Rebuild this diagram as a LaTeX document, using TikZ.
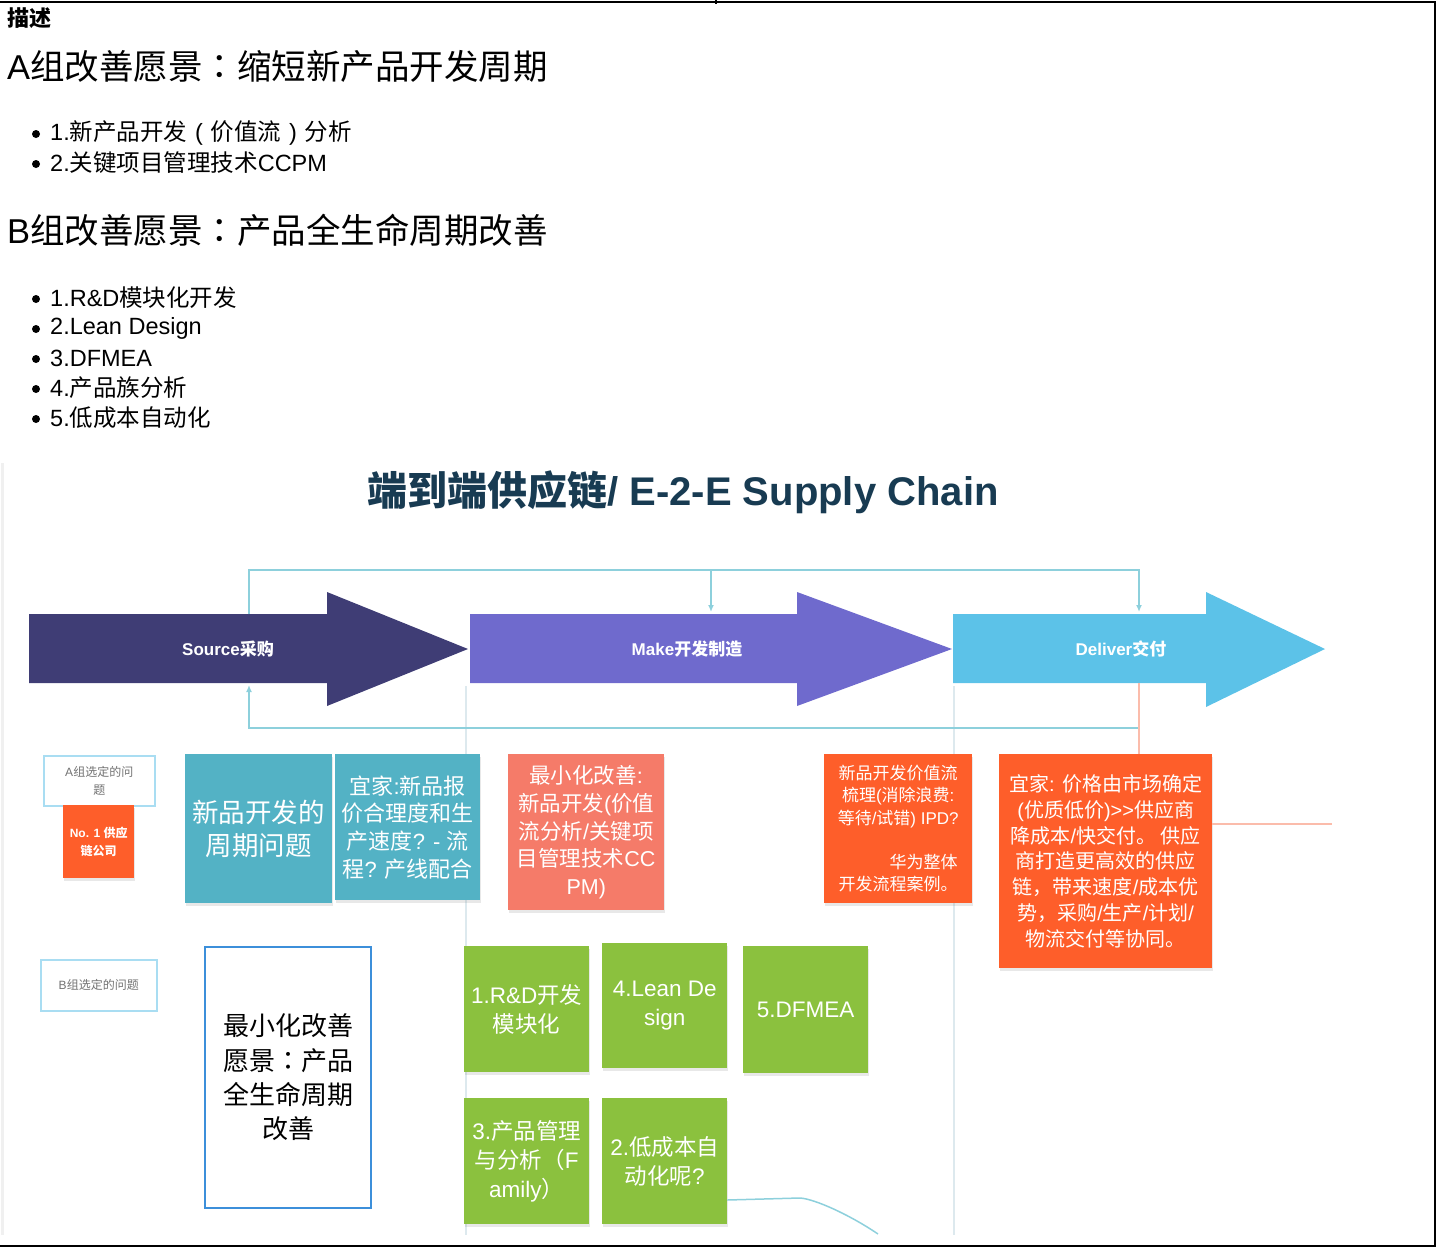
\documentclass[tikz,border=0pt]{standalone}
\usepackage{fontspec}
\setmainfont{Liberation Sans}
\newfontfamily\cjkf{Noto Sans CJK SC}
\newfontfamily\cjkp{Noto Sans CJK TC}
\newfontfamily\latf{Liberation Sans}
\usetikzlibrary{arrows.meta,shadows}
\XeTeXinterchartokenstate=1
\newcount\cjkcount
\def\setcjkrange#1#2{\cjkcount=#1\relax\loop\XeTeXcharclass\cjkcount=7\relax\advance\cjkcount by 1\relax\ifnum\cjkcount<#2\relax\repeat}
\setcjkrange{"3000}{"3040}
\setcjkrange{"4E00}{"A000}
\setcjkrange{"FF00}{"FFF0}
\XeTeXcharclass"FF1A=8
\XeTeXinterchartoks 0 7 = {\cjkf}
\XeTeXinterchartoks 4095 7 = {\cjkf}
\XeTeXinterchartoks 8 7 = {\cjkf}
\XeTeXinterchartoks 7 0 = {\latf}
\XeTeXinterchartoks 8 0 = {\latf}
\XeTeXinterchartoks 4095 0 = {\latf}
\XeTeXinterchartoks 0 8 = {\cjkp}
\XeTeXinterchartoks 7 8 = {\cjkp}
\XeTeXinterchartoks 4095 8 = {\cjkp}
\newcommand\fs[2]{\fontsize{#1}{#2}\selectfont}
\newcommand\wpar[1]{\makebox[1em][c]{#1}}
\definecolor{srcC}{HTML}{3F3D75}
\definecolor{makeC}{HTML}{6F6ACD}
\definecolor{delC}{HTML}{5CC2E8}
\definecolor{fbC}{HTML}{8DD0DC}
\definecolor{tealC}{HTML}{53B2C5}
\definecolor{salC}{HTML}{F57B69}
\definecolor{orgC}{HTML}{FE5E2A}
\definecolor{grnC}{HTML}{8BC13E}
\definecolor{bluC}{HTML}{3C8FDA}
\definecolor{lbluC}{HTML}{A9DDF2}
\definecolor{titleC}{HTML}{183B52}
\definecolor{laneC}{HTML}{DDE9EE}
\definecolor{orgLine}{HTML}{FBBCAB}
\begin{document}
\begin{tikzpicture}[x=1pt,y=-1pt,
  fbline/.style={draw=fbC,line width=2pt},
  tipa/.style={-{Latex[length=7pt,width=6pt]}},
  lane/.style={draw=laneC,line width=1.2pt},
  note/.style={anchor=north west,inner sep=2pt,align=center,text=white,
    drop shadow={opacity=0.18,shadow xshift=0.5pt,shadow yshift=-2.5pt}},
  qbox/.style={anchor=north west,inner sep=2pt,align=center,fill=white,draw=lbluC,line width=1.5pt,text=black!55,font=\fs{12}{18}},
  arrowlab/.style={text=white,font=\bfseries\fs{17}{20}},
  grn/.style={note,fill=grnC,minimum width=125pt,font=\fs{22.5}{28.5}},
  bul/.style={anchor=west,inner sep=0pt,font=\fs{23.5}{28}},
  head/.style={anchor=west,inner sep=0pt,font=\fs{34.5}{40}}
]
\useasboundingbox (0,0) rectangle (1443,1247);
% frame
\draw[line width=2pt] (0,2) -- (1436,2);
\draw[line width=2pt] (1435,2) -- (1435,1246);
\draw[line width=2pt] (0,1246) -- (1436,1246);
\draw[line width=1.5pt] (716,0) -- (716,4);
% header text
\node[anchor=west,inner sep=0pt,font=\bfseries\fs{22}{26}] (desc) at (7,18) {描述};
\node[head] (ha) at (7,66) {A组改善愿景：缩短新产品开发周期};
\fill (36,134) circle (4pt); \node[bul] (a1) at (50,133) {1.新产品开发\wpar{(}价值流\wpar{)}分析};
\fill (36,164) circle (4pt); \node[bul] (a2) at (50,163) {2.关键项目管理技术CCPM};
\node[head] (hb) at (7,230) {B组改善愿景：产品全生命周期改善};
\fill (36,299) circle (4pt); \node[bul] (b1) at (50,298) {1.R\&D模块化开发};
\fill (36,329) circle (4pt); \node[bul] (b2) at (50,328) {2.Lean Design};
\fill (36,359) circle (4pt); \node[bul] (b3) at (50,358) {3.DFMEA};
\fill (36,389) circle (4pt); \node[bul] (b4) at (50,388) {4.产品族分析};
\fill (36,419) circle (4pt); \node[bul] (b5) at (50,418) {5.低成本自动化};
% diagram frame edge
\draw[draw=black!6,line width=3pt] (2,463) -- (2,1235);
% title
\node[font=\bfseries\fs{40}{48},text=titleC] (title) at (683,492) {端到端供应链/ E-2-E Supply Chain};
% lanes
\coordinate (l1a) at (466,686); \coordinate (l1b) at (466,1235);
\coordinate (l2a) at (954,686); \coordinate (l2b) at (954,1235);
\draw[lane] (l1a) -- (l1b);
\draw[lane] (l2a) -- (l2b);
% big arrows
\fill[srcC] (29,614) -- (327,614) -- (327,592) -- (468,649) -- (327,706) -- (327,683) -- (29,683) -- cycle;
\fill[makeC] (470,614) -- (797,614) -- (797,592) -- (952,649) -- (797,706) -- (797,683) -- (470,683) -- cycle;
\fill[delC] (953,614) -- (1206,614) -- (1206,592) -- (1325,649) -- (1206,707) -- (1206,683) -- (953,683) -- cycle;
\node[arrowlab] (src) at (228,649) {Source采购};
\node[arrowlab] (make) at (687,649) {Make开发制造};
\node[arrowlab] (del) at (1121,649) {Deliver交付};
% feedback connectors
\coordinate (fa) at (249,614); \coordinate (fb) at (249,570);
\coordinate (fc) at (1139,570); \coordinate (fd) at (1139,612);
\coordinate (fm) at (711,570); \coordinate (fmd) at (711,612);
\coordinate (fe) at (1139,683); \coordinate (ff) at (1139,728);
\coordinate (fg) at (249,728); \coordinate (fh) at (249,685);
\draw[fbline,tipa] (fa) -- (fb) -- (fc) -- (fd);
\draw[fbline,tipa] (fm) -- (fmd);
\draw[fbline,tipa] (fe) -- (ff) -- (fg) -- (fh);
% A row
\node[qbox,minimum width=111pt,minimum height=50pt] (aq) at (43,755) {A组选定的问\\题};
\node[note,fill=orgC,minimum width=71pt,minimum height=73pt,font=\bfseries\fs{12}{18}] (no1) at (63,805) {No. 1 供应\\链公司};
\node[note,fill=tealC,minimum width=147pt,minimum height=149pt,font=\fs{26.5}{33}] (t1) at (185,754) {新品开发的\\周期问题};
\node[note,fill=tealC,minimum width=145pt,minimum height=146pt,font=\fs{22}{27.7}] (t2) at (335,754) {宜家:新品报\\价合理度和生\\产速度? - 流\\程? 产线配合};
\node[note,fill=salC,minimum width=156pt,minimum height=156pt,font=\fs{21.5}{27.75}] (s1) at (508,754) {最小化改善:\\新品开发(价值\\流分析/关键项\\目管理技术CC\\PM)};
\node[note,fill=orgC,minimum width=148pt,minimum height=149pt,font=\fs{17}{22.2}] (o1) at (824,754) {新品开发价值流\\梳理(消除浪费:\\等待/试错) IPD?\\[22.2pt]\makebox[7em][r]{华为整体}\\开发流程案例。};
\node[note,fill=orgC,minimum width=213pt,minimum height=214pt,font=\fs{20}{25.8}] (o2) at (999,754) {宜家: 价格由市场确定\\(优质低价)>>供应商\\降成本/快交付。 供应\\商打造更高效的供应\\链，带来速度/成本优\\势，采购/生产/计划/\\物流交付等协同。};
\coordinate (oe) at (1332,824);
\draw[draw=orgLine,line width=2pt] (fe) -- (fe |- o2.north);
\draw[draw=orgLine,line width=2pt] (o2.east |- oe) -- (oe);
% B row
\node[qbox,minimum width=116pt,minimum height=51pt] (bq) at (40,959) {B组选定的问题};
\node[anchor=north west,draw=bluC,line width=2pt,fill=white,minimum width=166pt,minimum height=261pt,align=center,font=\fs{26}{34.3}] (w1) at (204,946) {最小化改善\\愿景：产品\\全生命周期\\改善};
\node[grn,minimum height=126pt] (g1) at (464,946) {1.R\&D开发\\模块化};
\node[grn,minimum height=125pt] (g4) at (602,943) {4.Lean De\\sign};
\node[grn,minimum height=127pt] (g5) at (743,946) {5.DFMEA};
\node[grn,minimum height=126pt,font=\fs{22.5}{29}] (g3) at (464,1098) {3.产品管理\\与分析（F\\amily）};
\node[grn,minimum height=126pt] (g2) at (602,1098) {2.低成本自\\动化呢?};
\coordinate (gs) at (727,1200); \coordinate (gc1) at (800,1198); \coordinate (gc2) at (878,1234);
\draw[draw=fbC,line width=1.5pt] (g2.east |- gs) -- (gc1) .. controls (815,1199) and (850,1215) .. (gc2);
\end{tikzpicture}
\end{document}
